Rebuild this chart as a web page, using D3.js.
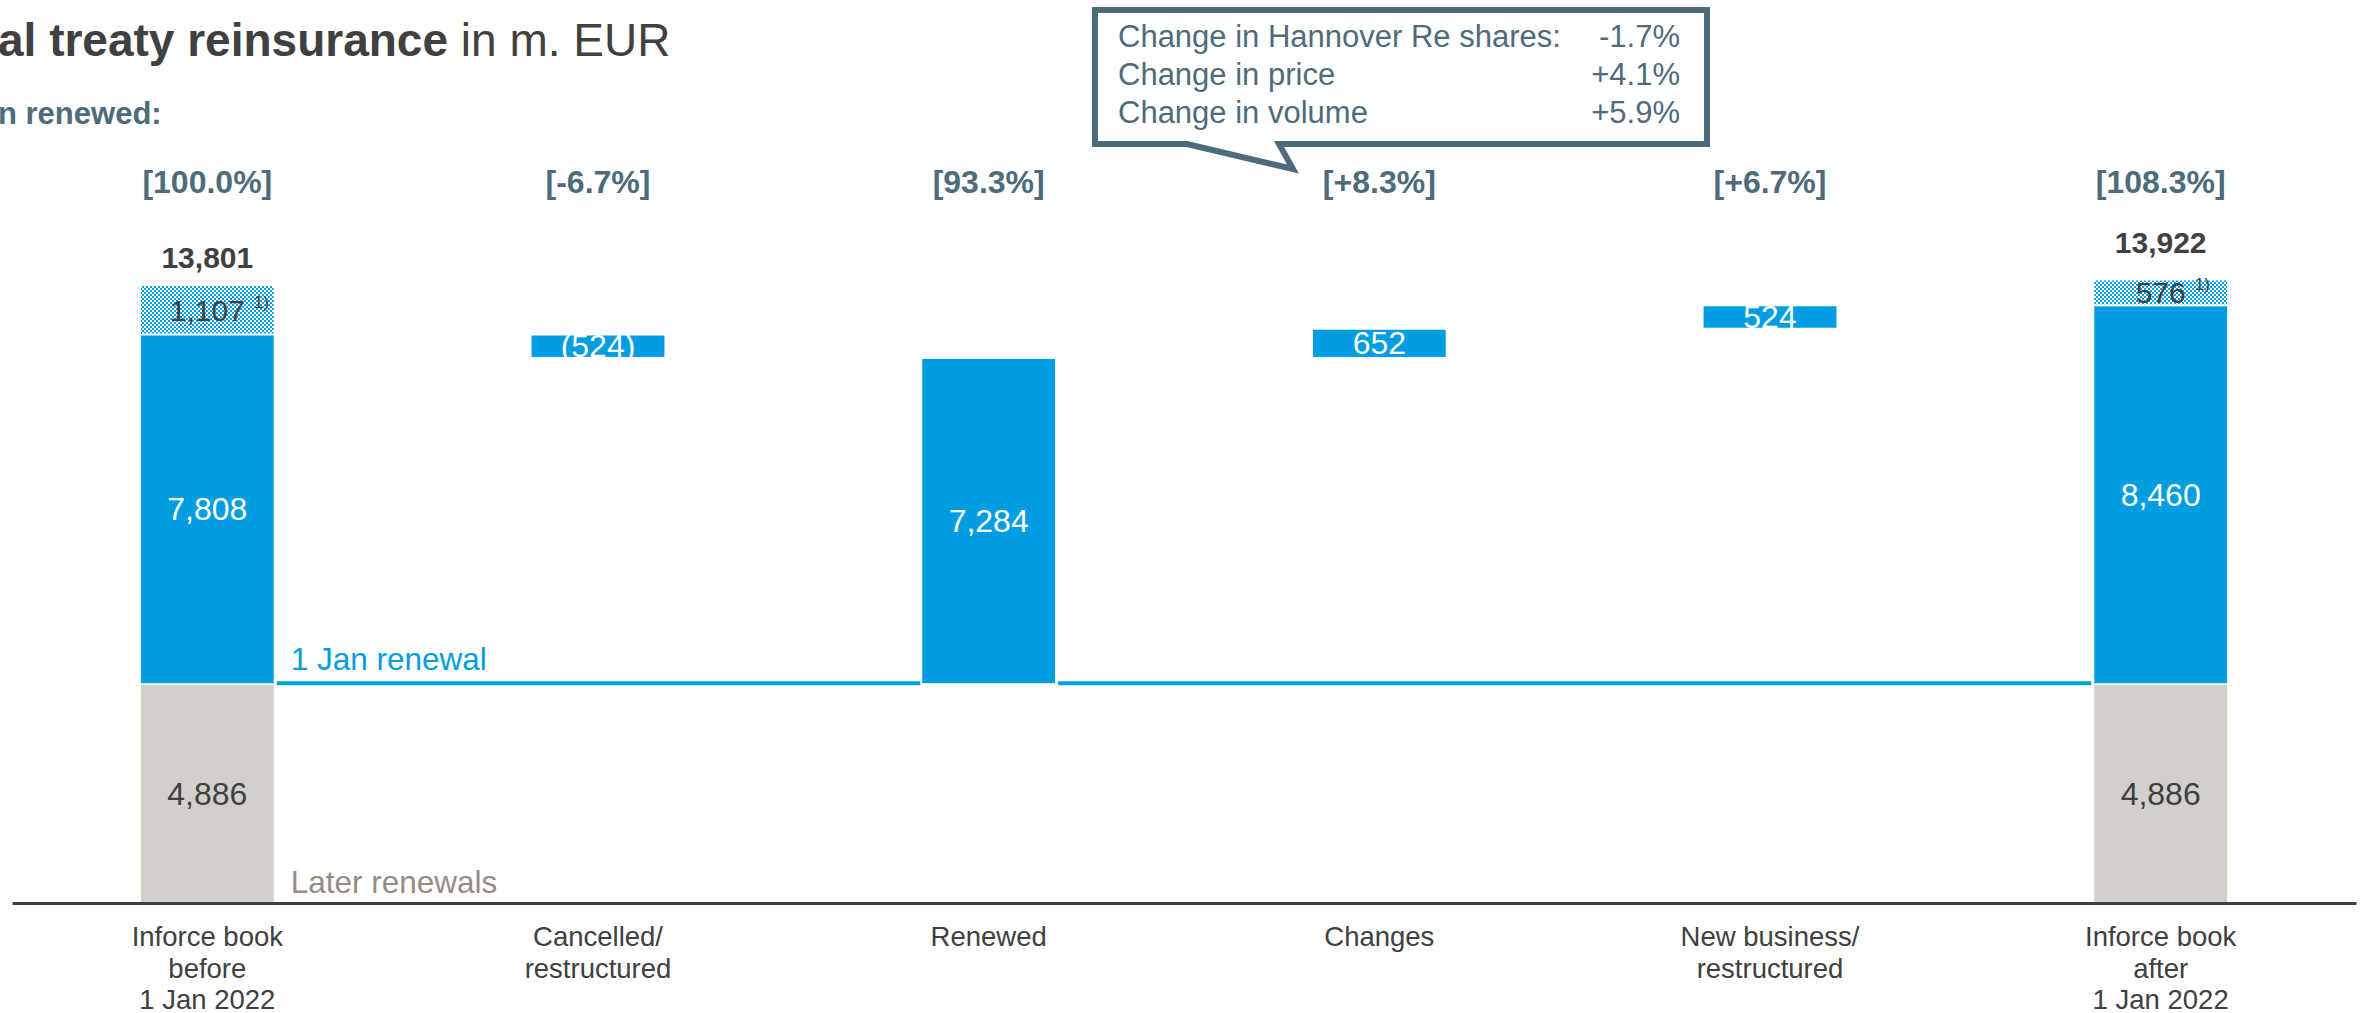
<!DOCTYPE html>
<html><head><meta charset="utf-8">
<script src="https://cdn.jsdelivr.net/npm/d3@7"></script>
<style>
body{margin:0;background:#fff;overflow:hidden;}
text{font-family:"Liberation Sans", Arial, sans-serif;}
</style></head><body>
<svg id="chart" width="2367" height="1013"></svg>
<script>
// ---- data ----
const categories = ["Inforce book|before|1 Jan 2022", "Cancelled/|restructured", "Renewed", "Changes", "New business/|restructured", "Inforce book|after|1 Jan 2022"];
const barTypes = ["total", "delta", "subtotal", "delta", "delta", "total"];
const shareLabels = ["[100.0%]", "[-6.7%]", "[93.3%]", "[+8.3%]", "[+6.7%]", "[108.3%]"];
const laterRenewals = [4886, null, null, null, null, 4886];
const janRenewal = [7808, -524, 7284, 652, 524, 8460];
const janLabels = ["7,808", "(524)", "7,284", "652", "524", "8,460"];
const footnoteAmounts = [1107, null, null, null, null, 576];
const totals = [13801, null, null, null, null, 13922];
const calloutItems = ["Change in Hannover Re shares:", "Change in price", "Change in volume"];
const calloutValues = ["-1.7%", "+4.1%", "+5.9%"];

// ---- styles ----
const BLUE = "#009ee0", GREY = "#d3d0cb", DARK = "#404040", SLATE = "#4e6b7b", TAUPE = "#968c82";

const svg = d3.select("#chart");
svg.append("rect").attr("width", 2367).attr("height", 1013).attr("fill", "#fff");

const defs = svg.append("defs");
const pat = defs.append("pattern").attr("id", "dots").attr("width", 4).attr("height", 4).attr("patternUnits", "userSpaceOnUse");
pat.append("rect").attr("width", 4).attr("height", 4).attr("fill", "#fff");
pat.append("rect").attr("width", 2).attr("height", 2).attr("fill", BLUE);
pat.append("rect").attr("x", 2).attr("y", 2).attr("width", 2).attr("height", 2).attr("fill", BLUE);

const x = d3.scaleBand().domain(categories).range([12, 2356]).paddingInner(0.66).paddingOuter(0.33);
const y = d3.scaleLinear().domain([0, 14000]).range([903, 276]);
const bw = x.bandwidth();

// ---- build segments ----
const laterBase = laterRenewals[0];
let level = 0;
const segs = [];
categories.forEach((c, i) => {
  const t = barTypes[i];
  if (t === "total") {
    const later = laterRenewals[i];
    const jan = janRenewal[i];
    segs.push({c, lo: 0, hi: later, kind: "grey", label: d3.format(",")(later)});
    segs.push({c, lo: later, hi: later + jan, kind: "blue", label: janLabels[i]});
    segs.push({c, lo: later + jan, hi: later + jan + footnoteAmounts[i], kind: "hatch", label: d3.format(",")(footnoteAmounts[i]), foot: true});
    level = later + jan;
  } else if (t === "delta") {
    const v = janRenewal[i];
    segs.push({c, lo: Math.min(level, level + v), hi: Math.max(level, level + v), kind: "blue", label: janLabels[i]});
    level += v;
  } else {
    segs.push({c, lo: laterBase, hi: laterBase + janRenewal[i], kind: "blue", label: janLabels[i]});
  }
});

const g = svg.append("g");
g.selectAll("rect.seg").data(segs).join("rect")
  .attr("class", "seg")
  .attr("x", d => x(d.c))
  .attr("width", bw)
  .attr("y", d => y(d.hi) + 1)
  .attr("height", d => Math.max(0, y(d.lo) - y(d.hi) - (d.lo === 0 ? 1 : 2)))
  .attr("fill", d => d.kind === "grey" ? GREY : d.kind === "blue" ? BLUE : "url(#dots)");

// 1 Jan renewal line
const lineY = y(laterBase) - 1;
const i0 = categories[0], i2 = categories[2], i5 = categories[5];
g.append("line").attr("x1", x(i0) + bw + 3).attr("x2", x(i2) - 2).attr("y1", lineY).attr("y2", lineY)
  .attr("stroke", BLUE).attr("stroke-width", 4);
g.append("line").attr("x1", x(i2) + bw + 3).attr("x2", x(i5) - 3).attr("y1", lineY).attr("y2", lineY)
  .attr("stroke", BLUE).attr("stroke-width", 4);

g.append("text").attr("x", x(i0) + bw + 17).attr("y", lineY - 13).attr("font-size", 31.5).attr("fill", BLUE).text("1 Jan renewal");
g.append("text").attr("x", x(i0) + bw + 17).attr("y", 893).attr("font-size", 31.5).attr("fill", TAUPE).text("Later renewals");

// segment labels
segs.forEach(d => {
  const cx = x(d.c) + bw / 2;
  const cy = (y(d.lo) + y(d.hi)) / 2 + 11;
  const t = g.append("text").attr("x", cx).attr("y", cy).attr("text-anchor", "middle")
    .attr("font-size", d.foot ? 30 : 32)
    .attr("fill", d.kind === "blue" ? "#fff" : DARK).text(d.label);
  if (d.foot) {
    const w = t.node().getComputedTextLength();
    g.append("text").attr("x", cx + w / 2 + 9).attr("y", cy - 13).attr("font-size", 17).attr("fill", DARK).text("1)");
  }
});

// totals
const totalGap = [17, 0, 0, 0, 0, 26];
totals.forEach((v, i) => {
  if (v == null) return;
  g.append("text").attr("x", x(categories[i]) + bw / 2).attr("y", y(v) - totalGap[i])
    .attr("text-anchor", "middle").attr("font-size", 30).attr("font-weight", "bold").attr("fill", DARK)
    .text(d3.format(",")(v));
});

// share labels
g.selectAll("text.share").data(shareLabels).join("text").attr("class", "share")
  .attr("x", (d, i) => x(categories[i]) + bw / 2).attr("y", 193)
  .attr("text-anchor", "middle").attr("font-size", 32).attr("font-weight", "bold").attr("fill", SLATE)
  .text(d => d);

// axis
const axis = svg.append("g").attr("transform", "translate(0,903)")
  .call(d3.axisBottom(x).tickSize(0).tickSizeOuter(0).tickFormat(""));
axis.select(".domain").attr("stroke", DARK).attr("stroke-width", 3);
axis.selectAll(".tick").each(function(d) {
  const t = d3.select(this).append("text").attr("fill", DARK).attr("font-size", 27.5)
    .attr("text-anchor", "middle").attr("y", 43);
  d.split("|").forEach((line, k) => t.append("tspan").attr("x", 0).attr("dy", k === 0 ? 0 : 31.5).text(line));
});

// title
const title = svg.append("text").attr("x", -2).attr("y", 56).attr("font-size", 46).attr("fill", DARK);
title.append("tspan").attr("font-weight", "bold").text("al treaty reinsurance");
title.append("tspan").text(" in m. EUR");
svg.append("text").attr("x", -2).attr("y", 124).attr("font-size", 31).attr("font-weight", "bold").attr("fill", SLATE).text("n renewed:");

// callout
const cg = svg.append("g");
cg.append("path").attr("d", "M1095,10 H1707 V144 H1279 L1293,169 L1187,144 H1095 Z")
  .attr("fill", "#fff").attr("stroke", SLATE).attr("stroke-width", 6).attr("stroke-linejoin", "miter");
calloutItems.forEach((s, k) => {
  cg.append("text").attr("x", 1118).attr("y", 47 + k * 38).attr("font-size", 31).attr("fill", SLATE).text(s);
  cg.append("text").attr("x", 1680).attr("y", 47 + k * 38).attr("font-size", 31).attr("fill", SLATE)
    .attr("text-anchor", "end").text(calloutValues[k]);
});
</script>
</body></html>
